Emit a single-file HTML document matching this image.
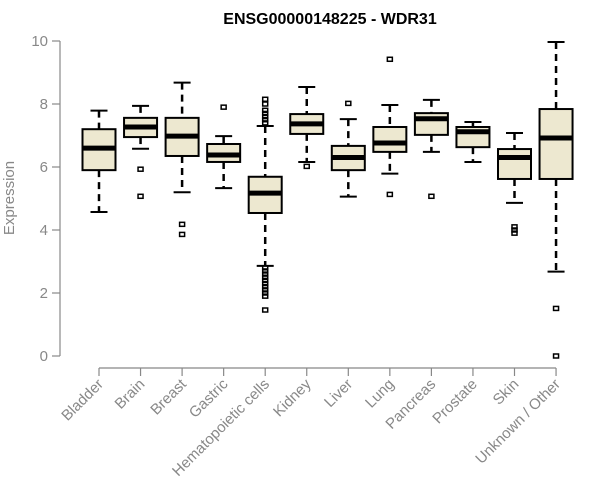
<!DOCTYPE html>
<html><head><meta charset="utf-8"><style>body{margin:0;background:#fff}svg{display:block;font-family:"Liberation Sans",Arial,sans-serif}</style></head>
<body>
<svg id="chart" width="600" height="500">
<text x="330" y="24" text-anchor="middle" font-weight="bold" font-size="16">ENSG00000148225 - WDR31</text>
<text transform="translate(14,198) rotate(-90)" text-anchor="middle" font-size="15" fill="#888">Expression</text>
<g id="yaxis"></g>
<g id="xaxis"></g>
<g id="boxes"></g>
</svg>
<script>
const categories=["Bladder","Brain","Breast","Gastric","Hematopoietic cells","Kidney","Liver","Lung","Pancreas","Prostate","Skin","Unknown / Other"];
const whiskerLow=[4.57,6.58,5.2,5.33,2.86,6.16,5.06,5.79,6.48,6.16,4.86,2.68];
const q1=[5.9,6.95,6.35,6.16,4.54,7.05,5.9,6.48,7.02,6.63,5.62,5.62];
const medians=[6.6,7.27,6.98,6.38,5.17,7.37,6.3,6.76,7.53,7.12,6.3,6.92];
const q3=[7.2,7.56,7.56,6.73,5.69,7.68,6.67,7.27,7.71,7.27,6.57,7.84];
const whiskerHigh=[7.79,7.94,8.68,6.98,7.3,8.54,7.52,7.97,8.13,7.43,7.08,9.97];
const outliers=[[],[5.93,5.07],[4.18,3.86],[7.9],[8.15,8.0,7.8,7.7,7.6,7.5,7.4,2.8,2.7,2.6,2.5,2.4,2.3,2.2,2.1,2.0,1.9,1.46],[6.02],[8.02],[9.42,5.13],[5.07],[],[4.1,4.0,3.9],[1.51,0]];
const yTicks=[0,2,4,6,8,10];
const NS="http://www.w3.org/2000/svg";
function y(v){return 356-v*31.5;}
function x(i){return 99+i*41.55;}
function mk(tag,attrs,parent){const e=document.createElementNS(NS,tag);for(const k in attrs)e.setAttribute(k,attrs[k]);parent.appendChild(e);return e;}
const ya=document.getElementById('yaxis'),xa=document.getElementById('xaxis'),bx=document.getElementById('boxes');
mk('line',{x1:60,x2:60,y1:y(10),y2:y(0),stroke:'#888','stroke-width':1.2},ya);
yTicks.forEach(t=>{
 mk('line',{x1:52,x2:60,y1:y(t),y2:y(t),stroke:'#888','stroke-width':1.2},ya);
 const tx=mk('text',{x:48,y:y(t)+5,'text-anchor':'end','font-size':15,fill:'#888'},ya);
 tx.textContent=t;
 
 
});
mk('line',{x1:x(0),x2:x(11),y1:368,y2:368,stroke:'#888','stroke-width':1.2},xa);
categories.forEach((c,i)=>{
 const cx=x(i);
 mk('line',{x1:cx,x2:cx,y1:368,y2:376,stroke:'#888','stroke-width':1.2},xa);
 const tx=mk('text',{transform:`translate(${cx+5},${385}) rotate(-45)`,'text-anchor':'end','font-size':15,fill:'#888'},xa);
 tx.textContent=c;
 
 
 const g=mk('g',{},bx);
 
 
 const hw=16.5,cw=8.5;
 mk('line',{x1:cx,x2:cx,y1:y(whiskerHigh[i]),y2:y(q3[i]),stroke:'#000','stroke-width':2.5,'stroke-dasharray':'7,5'},g);
 mk('line',{x1:cx,x2:cx,y1:y(q1[i]),y2:y(whiskerLow[i]),stroke:'#000','stroke-width':2.5,'stroke-dasharray':'7,5'},g);
 mk('line',{x1:cx-cw,x2:cx+cw,y1:y(whiskerHigh[i]),y2:y(whiskerHigh[i]),stroke:'#000','stroke-width':2},g);
 mk('line',{x1:cx-cw,x2:cx+cw,y1:y(whiskerLow[i]),y2:y(whiskerLow[i]),stroke:'#000','stroke-width':2},g);
 mk('rect',{x:cx-hw,y:y(q3[i]),width:2*hw,height:y(q1[i])-y(q3[i]),fill:'#ede8d0',stroke:'#000','stroke-width':2},g);
 mk('line',{x1:cx-hw,x2:cx+hw,y1:y(medians[i]),y2:y(medians[i]),stroke:'#000','stroke-width':5},g);
 outliers[i].forEach(o=>{
  const r=mk('rect',{x:cx-2.5,y:y(o)-2,width:5,height:4,fill:'none',stroke:'#000','stroke-width':1.5},g);
  
  
 });
});
</script>
</body></html>
